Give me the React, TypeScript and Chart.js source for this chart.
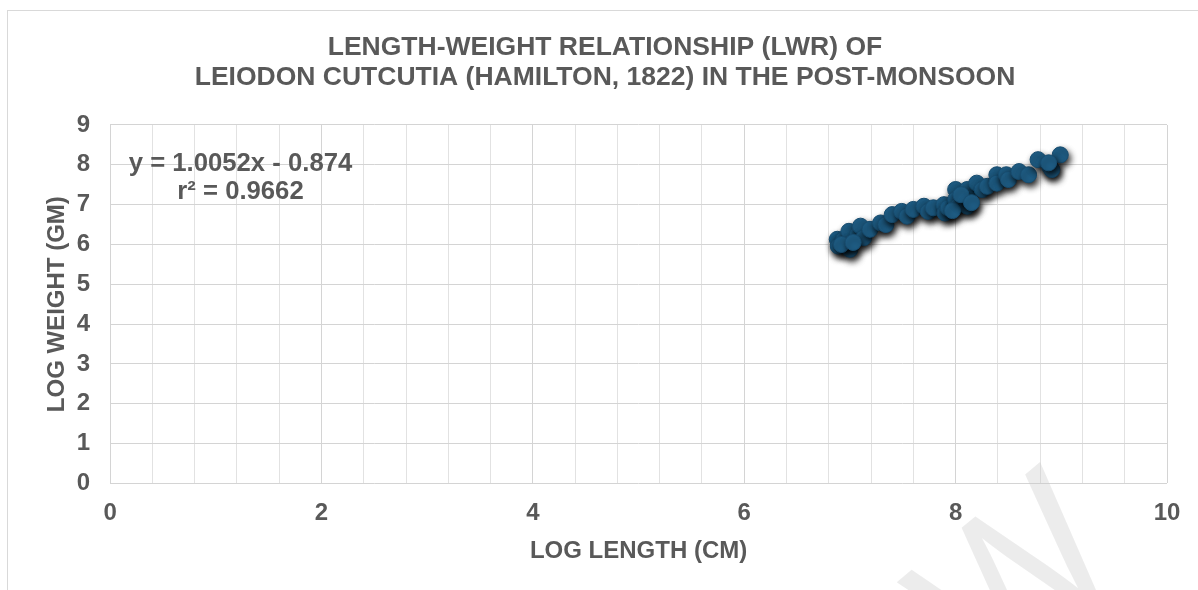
import React, { useEffect, useRef } from "react";
import { Chart, registerables } from "chart.js";

Chart.register(...registerables);

const titleLines = [
  "LENGTH-WEIGHT RELATIONSHIP (LWR) OF",
  "LEIODON CUTCUTIA (HAMILTON, 1822) IN THE POST-MONSOON",
];
const xAxisTitle = "LOG LENGTH (CM)";
const yAxisTitle = "LOG WEIGHT (GM)";
const equationLines = ["y = 1.0052x - 0.874", "r² = 0.9662"];
const watermarkText = "PREVIEW";

const logLength = [
  6.88, 6.89, 7.0, 6.94, 6.99, 7.07, 7.1, 7.13, 7.19, 7.29,
  7.34, 7.4, 7.49, 7.54, 7.6, 7.7, 7.74, 7.79, 7.89, 7.9,
  7.93, 8.0, 8.0, 8.03, 8.11, 8.11, 8.12, 8.2, 8.25, 8.3,
  8.39, 8.39, 8.48, 8.5, 8.6, 8.69, 8.78, 8.89, 8.91, 8.99,
  6.92, 7.03, 7.97, 8.05, 8.15, 8.88,
];
const logWeight = [
  6.13, 5.96, 5.88, 6.13, 6.33, 6.25, 6.46, 6.17, 6.38, 6.54,
  6.5, 6.75, 6.83, 6.71, 6.88, 6.96, 6.83, 6.92, 7.0, 6.79,
  6.92, 7.38, 7.13, 7.0, 7.38, 6.96, 7.17, 7.54, 7.38, 7.46,
  7.75, 7.54, 7.75, 7.63, 7.83, 7.75, 8.13, 7.96, 7.88, 8.25,
  6.0, 6.05, 6.85, 7.25, 7.05, 8.05,
];

const FONT = "'Liberation Sans', Arial, sans-serif";
const TEXT = "#595959";

export default function App() {
  const ref = useRef<HTMLCanvasElement>(null);

  useEffect(() => {
    const canvas = ref.current;
    if (!canvas) return;

    const points = logLength.map((x, i) => ({ x, y: logWeight[i] }));

    const framePlugin = {
      id: "frame",
      beforeDraw(chart: any) {
        const ctx = chart.ctx;
        ctx.save();
        ctx.fillStyle = "#ffffff";
        ctx.fillRect(0, 0, chart.width, chart.height);
        ctx.strokeStyle = "#d9d9d9";
        ctx.lineWidth = 1;
        ctx.strokeRect(7.5, 10.5, chart.width + 50, chart.height + 50);
        ctx.restore();
      },
    };

    const shadowPlugin = {
      id: "markerShadow",
      beforeDatasetDraw(chart: any) {
        const ctx = chart.ctx;
        ctx.save();
        ctx.shadowColor = "rgba(0,0,0,0.85)";
        ctx.shadowOffsetX = 2;
        ctx.shadowOffsetY = 4;
        ctx.shadowBlur = 6;
      },
      afterDatasetDraw(chart: any) {
        chart.ctx.restore();
      },
    };

    const textPlugin = {
      id: "equation",
      afterDraw(chart: any) {
        const ctx = chart.ctx;
        ctx.save();
        ctx.fillStyle = TEXT;
        ctx.font = `bold 25.7px ${FONT}`;
        ctx.textAlign = "center";
        ctx.textBaseline = "middle";
        ctx.fillText(equationLines[0], 240.5, 164);
        ctx.fillText(equationLines[1], 240.5, 192);
        // watermark
        ctx.translate(1129, 567);
        ctx.rotate((-40 * Math.PI) / 180);
        ctx.font = `200px ${FONT}`;
        ctx.fillStyle = "rgba(200,200,200,0.35)";
        ctx.textAlign = "right";
        ctx.textBaseline = "alphabetic";
        ctx.fillText(watermarkText, 0, 0);
        ctx.restore();
      },
    };

    const isMajor = (v: number) => Math.abs(v / 2 - Math.round(v / 2)) < 1e-6;

    const chart = new Chart(canvas, {
      type: "scatter",
      data: {
        datasets: [
          {
            data: points,
            backgroundColor: "#1f5e86",
            borderColor: "#184d70",
            borderWidth: 1,
            pointRadius: 8,
            pointHoverRadius: 8,
          },
        ],
      },
      options: {
        animation: false,
        responsive: false,
        devicePixelRatio: 1,
        layout: { padding: { left: 43, right: 31, top: 0, bottom: 24 } },
        plugins: {
          legend: { display: false },
          tooltip: { enabled: false },
          title: {
            display: true,
            text: titleLines,
            color: TEXT,
            font: { family: FONT, size: 26.5, weight: "bold", lineHeight: 1.132 },
            padding: { top: 33, bottom: 32 },
          },
        },
        scales: {
          x: {
            type: "linear",
            min: 0,
            max: 10,
            border: { display: false },
            grid: {
              drawTicks: false,
              color: (c: any) => (isMajor(c.tick ? c.tick.value : 0) ? "#d4d4d4" : "#e2e2e2"),
              lineWidth: 1,
            },
            ticks: {
              stepSize: 0.4,
              autoSkip: false,
              maxRotation: 0,
              padding: 16,
              color: TEXT,
              font: { family: FONT, size: 24, weight: "bold" },
              callback: (v: any) => {
                const n = Number(v);
                return isMajor(n) ? String(Math.round(n)) : "";
              },
            },
            title: {
              display: true,
              text: xAxisTitle,
              color: TEXT,
              font: { family: FONT, size: 24, weight: "bold" },
              padding: { top: -7, bottom: 0 },
            },
          },
          y: {
            type: "linear",
            min: 0,
            max: 9,
            border: { display: false },
            grid: { drawTicks: false, color: "#d4d4d4", lineWidth: 1 },
            ticks: {
              stepSize: 1,
              padding: 20,
              color: TEXT,
              font: { family: FONT, size: 24, weight: "bold" },
            },
            title: {
              display: true,
              text: yAxisTitle,
              color: TEXT,
              font: { family: FONT, size: 24, weight: "bold" },
              padding: { top: 0, bottom: -15 },
            },
          },
        },
      },
      plugins: [framePlugin, shadowPlugin, textPlugin],
    });

    return () => chart.destroy();
  }, []);

  return (
    <div style={{ position: "absolute", left: 0, top: 0, width: 1198, height: 590 }}>
      <canvas ref={ref} width={1198} height={590} style={{ display: "block" }} />
    </div>
  );
}
